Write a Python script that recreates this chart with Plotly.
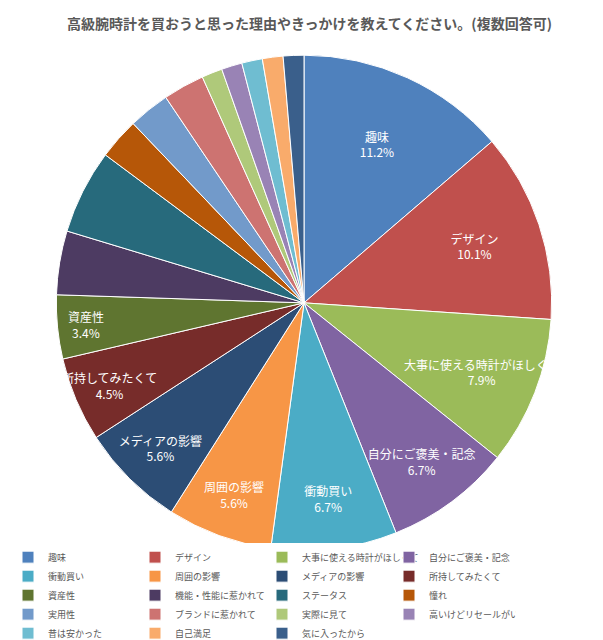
import plotly.graph_objects as go

labels = ["趣味","デザイン","大事に使える時計がほしくて","自分にご褒美・記念","衝動買い",
          "周囲の影響","メディアの影響","所持してみたくて","資産性","機能・性能に惹かれて",
          "ステータス","憧れ","実用性","ブランドに惹かれて","実際に見て",
          "高いけどリセールがいい","昔は安かった","自己満足","気に入ったから"]
values = [11.2,10.1,7.9,6.7,6.7,5.6,5.6,4.5,3.4,3.4,4.5,2.2,2.2,2.2,1.1,1.1,1.1,1.1,1.1]
shown = [True]*9 + [False]*10
colors = ["#4F81BD","#C0504D","#9BBB59","#8064A2","#4BACC6","#F79646","#2C4D75","#772C2A",
          "#5F7530","#4D3B62","#276A7C","#B65708","#729ACA","#CD7371","#AFC97A","#9983B5",
          "#6FBDD1","#F9AB6B","#3A5F8B"]
texts = [f"{l}<br>{v}%" if s else "" for l, v, s in zip(labels, values, shown)]

fig = go.Figure(go.Pie(
    labels=labels, values=values, text=texts, textinfo="text", textposition="inside",
    insidetextorientation="horizontal", sort=False, direction="clockwise", rotation=0,
    marker=dict(colors=colors, line=dict(color="white", width=1)),
    textfont=dict(color="white", size=12, family="Noto Sans CJK JP"),
    domain=dict(x=[44/603, 548/603], y=[88/640, 592/640]),
))
fig.update_layout(
    width=603, height=640, paper_bgcolor="white", plot_bgcolor="white",
    margin=dict(l=0, r=0, t=0, b=0),
    uniformtext=dict(minsize=12, mode="show"),
    title=dict(text="<b>高級腕時計を買おうと思った理由やきっかけを教えてください。(複数回答可)</b>",
               x=0.5, xanchor="center", y=0.975, yanchor="middle",
               font=dict(size=14, color="#595959", family="Noto Sans CJK JP")),
    legend=dict(orientation="h", x=0.0, xanchor="left", y=0.15, yanchor="top",
                entrywidth=82, entrywidthmode="pixels", itemwidth=30,
                font=dict(size=9, color="#595959", family="Noto Sans CJK JP"),
                tracegroupgap=0),
)
fig.write_html("out.html")
